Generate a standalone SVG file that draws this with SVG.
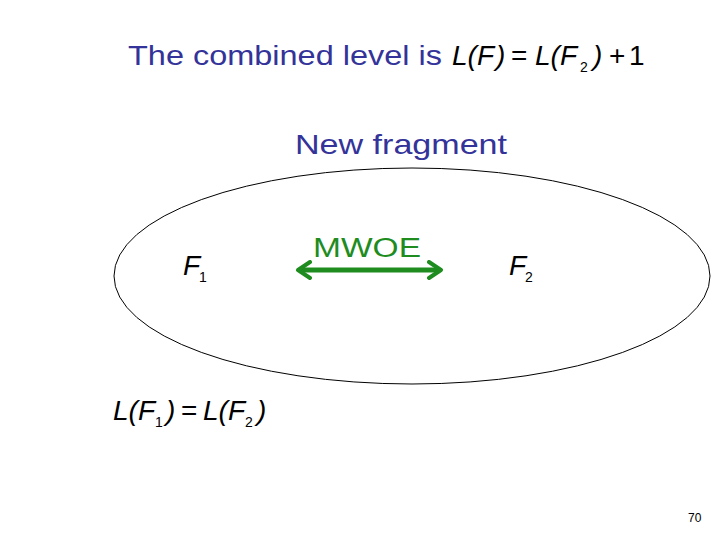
<svg xmlns="http://www.w3.org/2000/svg" width="720" height="540" viewBox="0 0 720 540">
<style>
.blue{font-family:"Liberation Sans","DejaVu Sans",sans-serif;fill:#333399;font-size:28px}
.math{font-family:"Liberation Sans","DejaVu Sans",sans-serif;font-style:italic;fill:#000;font-size:28px}
.up{font-style:normal}
.sub{font-family:"Liberation Sans","DejaVu Sans",sans-serif;font-size:14px;fill:#000}
.green{font-family:"Liberation Sans","DejaVu Sans",sans-serif;fill:#1e8c1e;font-size:27px}
</style>
<defs>
<marker id="ah" viewBox="0 0 10 10" refX="6" refY="5" markerWidth="4" markerHeight="4" orient="auto-start-reverse" markerUnits="strokeWidth">
<path d="M1,1 L7,5 L1,9" fill="none" stroke="#1e8c1e" stroke-width="2" stroke-linecap="round" stroke-linejoin="round"/>
</marker>
</defs>
<rect width="720" height="540" fill="#fff"/>
<g id="title">
<text class="blue" x="128" y="65" textLength="314" lengthAdjust="spacingAndGlyphs">The combined level is</text>
<text class="math" x="452" y="65">L(F</text>
<text class="math" x="496" y="65">)</text>
<text class="math up" x="511" y="65">=</text>
<text class="math" x="535" y="65">L(F</text>
<text class="sub" x="580" y="72">2</text>
<text class="math" x="593" y="65">)</text>
<text class="math up" x="609" y="65">+</text>
<text class="math up" x="629" y="65">1</text>
</g>
<g id="new-fragment">
<text class="blue" x="401" y="154" text-anchor="middle" textLength="212" lengthAdjust="spacingAndGlyphs">New fragment</text>
<ellipse cx="412" cy="276" rx="298" ry="108" fill="none" stroke="#000" stroke-width="1"/>
</g>
<g id="F1">
<text class="math" x="183" y="275">F</text>
<text class="sub" x="199" y="282">1</text>
</g>
<g id="F2">
<text class="math" x="509" y="275">F</text>
<text class="sub" x="525" y="282">2</text>
</g>
<g id="connectors">
<line x1="300" y1="270" x2="439" y2="270" stroke="#1e8c1e" stroke-width="5" marker-start="url(#ah)" marker-end="url(#ah)"/>
<text class="green" x="313" y="257" textLength="108" lengthAdjust="spacingAndGlyphs">MWOE</text>
</g>
<g id="equation">
<text class="math" x="113" y="420">L(F</text>
<text class="sub" x="155" y="427">1</text>
<text class="math" x="166" y="420">)</text>
<text class="math up" x="181" y="420">=</text>
<text class="math" x="203" y="420">L(F</text>
<text class="sub" x="245" y="427">2</text>
<text class="math" x="257" y="420">)</text>
</g>
<text x="688" y="522" font-family="Liberation Sans, sans-serif" font-size="12" fill="#000">70</text>
</svg>
